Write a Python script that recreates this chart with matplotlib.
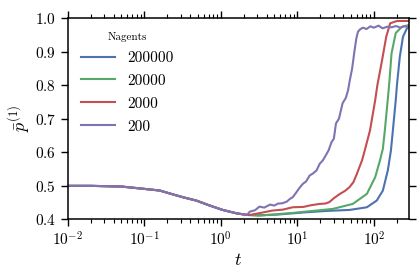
import matplotlib
matplotlib.use('Agg')
import matplotlib.pyplot as plt

plt.rcParams['font.family'] = 'serif'
plt.rcParams['font.serif'] = ['cmr10']
plt.rcParams['mathtext.fontset'] = 'cm'
plt.rcParams['axes.formatter.use_mathtext'] = True

# shared early part (all runs start together)
t_early = [0.01, 0.02, 0.05, 0.1, 0.16, 0.21, 0.32, 0.48, 0.72, 1.06, 1.6, 2.2]
p_early = [0.499, 0.499, 0.497, 0.490, 0.485, 0.477, 0.465, 0.455, 0.440, 0.427, 0.417, 0.412]

t_200000 = [3.2, 5.4, 13, 24, 48, 81, 109, 131, 152, 167, 177, 193, 200, 218, 240, 270, 290]
p_200000 = [0.411, 0.413, 0.420, 0.424, 0.427, 0.435, 0.455, 0.485, 0.545, 0.605, 0.665, 0.755, 0.800, 0.885, 0.945, 0.970, 0.975]

t_20000 = [3.2, 8.7, 29, 53, 81, 104, 120, 131, 139, 153, 160, 170, 193, 233, 290]
p_20000 = [0.410, 0.418, 0.430, 0.445, 0.475, 0.525, 0.575, 0.610, 0.665, 0.765, 0.815, 0.895, 0.956, 0.975, 0.980]

t_2000 = [2.4, 3.3, 4.7, 6.5, 8.7, 12, 15, 19.6, 23, 26, 30, 36, 42, 48, 54, 60, 65, 70, 76,
          89, 104, 111, 128, 145, 163, 200, 290]
p_2000 = [0.412, 0.418, 0.425, 0.428, 0.435, 0.436, 0.441, 0.445, 0.446, 0.450, 0.462, 0.475,
          0.484, 0.495, 0.510, 0.535, 0.556, 0.575, 0.605, 0.665, 0.755, 0.800, 0.875, 0.945,
          0.985, 0.992, 0.992]

t_200 = [2.4, 2.8, 3.2, 3.7, 4.4, 5.0, 5.6, 6.4, 7.3, 8.0, 8.7, 9.6, 10.6, 11.8, 13, 14.5,
         16, 17.8, 19.6, 21.5, 23.5, 25.6, 28, 30, 32, 35, 39, 43, 46, 48.5, 52, 56, 59, 62,
         66, 72, 80, 90, 100, 115, 130, 150, 170, 195, 220, 250, 290]
p_200 = [0.422, 0.426, 0.437, 0.434, 0.443, 0.440, 0.446, 0.447, 0.452, 0.460, 0.465, 0.478,
         0.492, 0.505, 0.512, 0.530, 0.536, 0.545, 0.565, 0.575, 0.590, 0.605, 0.630, 0.640,
         0.686, 0.700, 0.746, 0.762, 0.785, 0.815, 0.850, 0.905, 0.940, 0.960, 0.967, 0.972,
         0.968, 0.976, 0.972, 0.978, 0.970, 0.975, 0.973, 0.977, 0.972, 0.976, 0.974]

series = [
    ('200000', t_200000, p_200000, '#4C72B0'),
    ('20000', t_20000, p_20000, '#55A868'),
    ('2000', t_2000, p_2000, '#C44E52'),
    ('200', t_200, p_200, '#8172B2'),
]

fig = plt.figure(figsize=(4.2, 2.8), dpi=100)
ax = fig.add_axes([0.161, 0.218, 0.8135, 0.7166])

for label, t, p, c in series:
    ax.plot(t_early + t, p_early + p, color=c, lw=1.5, label=label)

ax.set_xscale('log')
ax.set_xlim(0.01, 290)
ax.set_ylim(0.4, 1.0)
ax.set_yticks([0.4, 0.5, 0.6, 0.7, 0.8, 0.9, 1.0])
ax.tick_params(which='both', direction='out', top=True, right=True, labelsize=11)
ax.tick_params(which='major', length=5, width=1)
ax.tick_params(which='minor', length=3, width=0.8)
for s in ax.spines.values():
    s.set_linewidth(1.1)

ax.set_xlabel('$t$', fontsize=13, labelpad=2)
ax.set_ylabel(r'$\bar{p}^{(1)}$', fontsize=13, labelpad=2)

leg = ax.legend(title='Nagents', loc='upper left', frameon=False, fontsize=11,
                handlelength=2.2, handletextpad=0.8, labelspacing=0.6,
                bbox_to_anchor=(0.0, 1.0))
leg.get_title().set_fontsize(8)

fig.savefig('out.png', dpi=100)
